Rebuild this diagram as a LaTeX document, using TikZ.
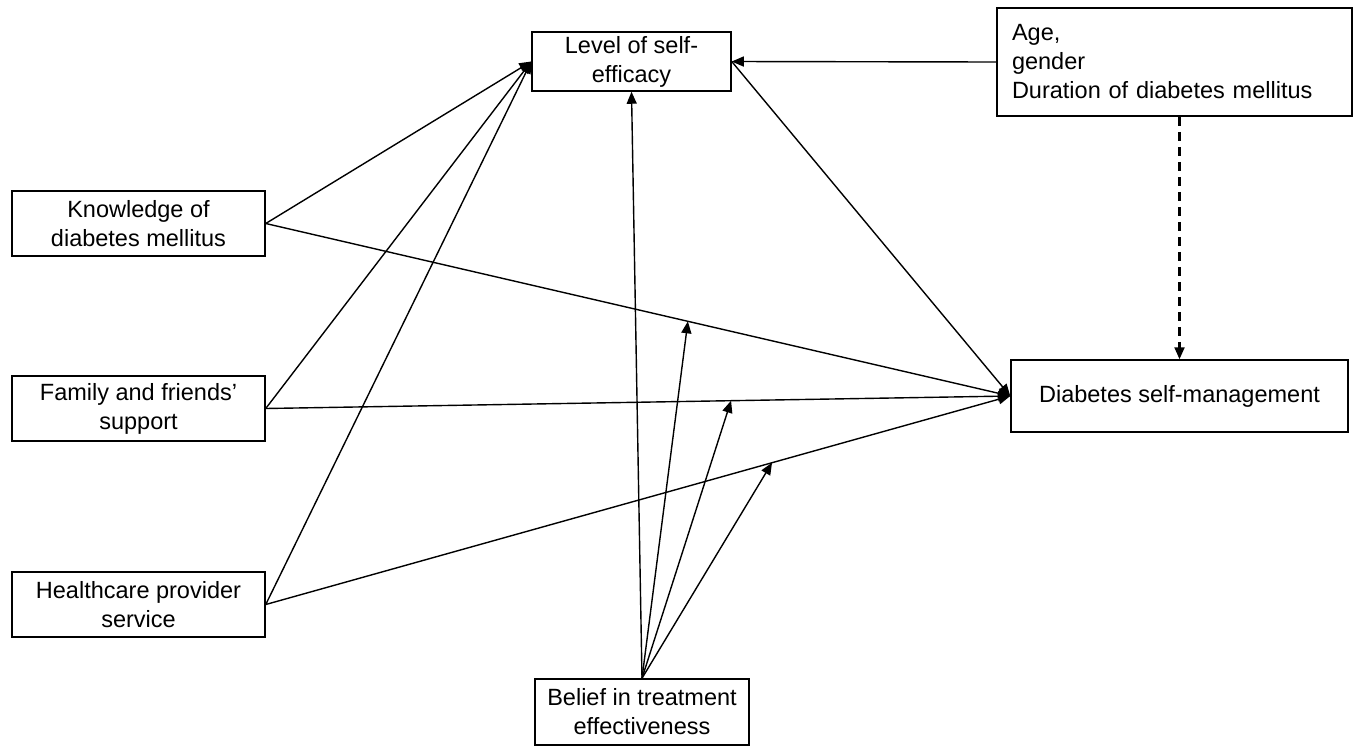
\documentclass[tikz,border=0pt]{standalone}
\usepackage{fontspec}
\setmainfont{Liberation Sans}
\usetikzlibrary{arrows.meta}
\begin{document}
\begin{tikzpicture}[x=1pt,y=-1pt,
  box/.style={draw, line width=1.5pt, align=center, inner sep=0pt,
    font=\fontsize{23.5}{29}\selectfont},
  arr/.style={line width=1.4pt, -{Triangle[length=12pt,width=10pt]}},
  ln/.style={line width=1.4pt}]
\useasboundingbox (0,0) rectangle (1357,753);
\node[box, minimum width=199pt, minimum height=59pt] (lev) at (631.5,61.5) {Level of self-\\efficacy};
\node[box, minimum width=355pt, minimum height=108pt, text width=325pt, align=left, inner xsep=15pt] (age) at (1174.5,62) {Age,\\gender\\Duration of diabetes mellitus};
\node[box, minimum width=253pt, minimum height=65pt] (kno) at (138.5,223.5) {Knowledge of\\diabetes mellitus};
\node[box, minimum width=253pt, minimum height=65pt] (fam) at (138.5,408.5) {Family and friends’\\support};
\node[box, minimum width=253pt, minimum height=65pt] (hea) at (138.5,604.5) {Healthcare provider\\service};
\node[box, minimum width=214pt, minimum height=66pt] (bel) at (642,712) {Belief in treatment\\effectiveness};
\node[box, minimum width=337pt, minimum height=72pt] (dsm) at (1179.5,396) {Diabetes self-management};

\draw[arr] (kno.east) -- (lev.west);
\draw[arr] (fam.east) -- (lev.west);
\draw[arr] (hea.east) -- (lev.west);
\draw[arr] (kno.east) -- coordinate[pos=0.567] (k1) (dsm.west);
\draw[arr] (fam.east) -- coordinate[pos=0.625] (f1) (dsm.west);
\draw[arr] (hea.east) -- coordinate[pos=0.68] (h1) (dsm.west);
\draw[arr] (age.west) -- (lev.east);
\draw[arr] (lev.east) -- (dsm.west);
\draw[arr, line width=2.2pt, dash pattern=on 9pt off 6pt] (dsm.north |- age.south) -- (dsm.north);
\draw[arr] (bel.north) -- (lev.south);
\draw[arr] (bel.north) -- (k1);
\draw[arr] (bel.north) -- (f1);
\draw[arr] (bel.north) -- (h1);
\end{tikzpicture}
\end{document}
